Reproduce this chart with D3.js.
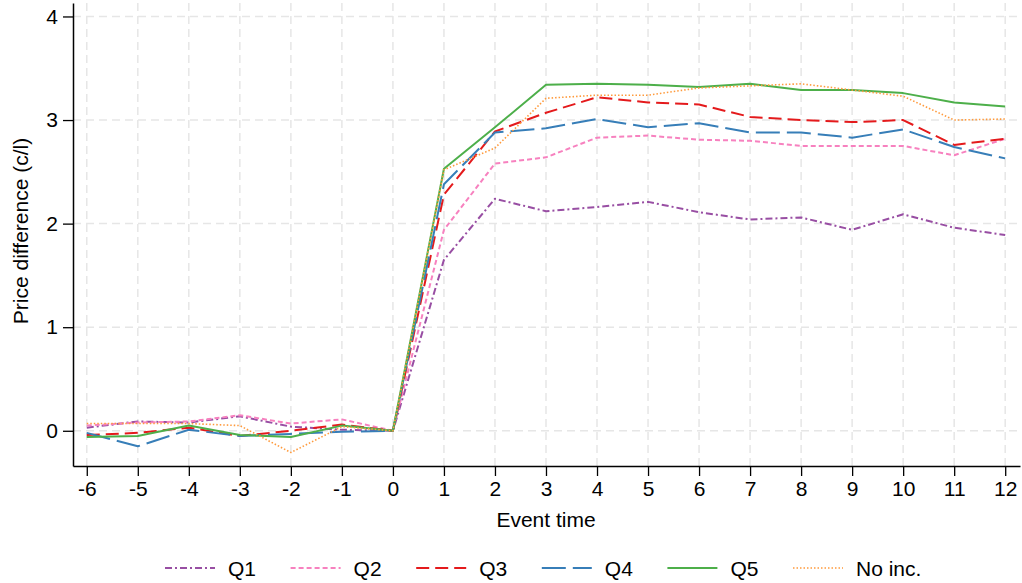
<!DOCTYPE html>
<html>
<head>
<meta charset="utf-8">
<script src="https://cdn.jsdelivr.net/npm/d3@7"></script>
<style>
  body { margin: 0; background: #fff; }
  svg { display: block; font-family: "Liberation Sans", Arial, sans-serif; }
</style>
</head>
<body>
<svg id="chart" width="1022" height="583"></svg>
<script>
// event time -6 .. 12
const eventTime = [-6, -5, -4, -3, -2, -1, 0, 1, 2, 3, 4, 5, 6, 7, 8, 9, 10, 11, 12];

const q1 = [0.03, 0.09, 0.08, 0.14, 0.04, 0.01, 0, 1.65, 2.24, 2.12, 2.16, 2.21, 2.11, 2.04, 2.06, 1.94, 2.09, 1.96, 1.89];
const q2 = [0.05, 0.08, 0.09, 0.15, 0.07, 0.11, 0, 1.94, 2.58, 2.64, 2.83, 2.85, 2.81, 2.80, 2.75, 2.75, 2.75, 2.66, 2.82];
const q3 = [-0.04, -0.02, 0.03, -0.05, 0.0, 0.06, 0, 2.28, 2.89, 3.07, 3.22, 3.17, 3.15, 3.03, 3.00, 2.98, 3.00, 2.76, 2.82];
const q4 = [-0.02, -0.15, 0.01, -0.05, -0.03, -0.01, 0, 2.38, 2.88, 2.92, 3.01, 2.93, 2.97, 2.88, 2.88, 2.83, 2.91, 2.74, 2.63];
const q5 = [-0.06, -0.05, 0.05, -0.04, -0.06, 0.05, 0, 2.53, 2.93, 3.34, 3.35, 3.34, 3.32, 3.35, 3.29, 3.29, 3.26, 3.17, 3.13];
const noInc = [0.07, 0.07, 0.07, 0.05, -0.21, 0.04, 0, 2.52, 2.73, 3.21, 3.24, 3.24, 3.31, 3.33, 3.35, 3.29, 3.23, 3.00, 3.01];

const seriesNames = [`Q1`, `Q2`, `Q3`, `Q4`, `Q5`, `No inc.`];
const seriesValues = [q1, q2, q3, q4, q5, noInc];
const yTicks = [0, 1, 2, 3, 4];

const colors = [`#984ea3`, `#f781bf`, `#e41a1c`, `#377eb8`, `#4daf4a`, `#ff9a3c`];
const dashes = [`7,3,2,3`, `5,3`, `13,6`, `24,7`, null, `1.5,2`];
const widths = [2, 2, 2, 2, 2, 1.6];

const svg = d3.select(`#chart`);
const fontSize = `21px`;

const plotLeft = 73, plotRight = 1020, plotTop = 3, plotBottom = 466;

const x = d3.scaleLinear()
    .domain([-6.27, 12.29])
    .range([plotLeft, plotRight]);

const y = d3.scaleLinear()
    .domain([-0.34, 4.13])
    .range([plotBottom, plotTop]);

// grid
const grid = svg.append(`g`)
    .attr(`stroke`, `#e6e6e6`)
    .attr(`stroke-width`, 1.5)
    .attr(`stroke-dasharray`, `8,5`);

grid.selectAll(`line.gx`)
    .data(eventTime)
    .enter().append(`line`)
        .attr(`x1`, d => x(d))
        .attr(`x2`, d => x(d))
        .attr(`y1`, plotTop)
        .attr(`y2`, plotBottom);

grid.selectAll(`line.gy`)
    .data(yTicks)
    .enter().append(`line`)
        .attr(`x1`, plotLeft)
        .attr(`x2`, plotRight)
        .attr(`y1`, d => y(d))
        .attr(`y2`, d => y(d));

// axes (plain hyphen for negatives, like the original)
const plain = d => `${d}`;

const xAxis = d3.axisBottom(x)
    .tickValues(eventTime)
    .tickFormat(plain)
    .tickSizeInner(10)
    .tickSizeOuter(0)
    .tickPadding(5);

const yAxis = d3.axisLeft(y)
    .tickValues(yTicks)
    .tickFormat(plain)
    .tickSizeInner(10)
    .tickSizeOuter(0)
    .tickPadding(5);

const gx = svg.append(`g`)
    .attr(`transform`, `translate(0, ${plotBottom})`)
    .call(xAxis);

const gy = svg.append(`g`)
    .attr(`transform`, `translate(${plotLeft}, 0)`)
    .call(yAxis);

[gx, gy].forEach(g => {
    g.selectAll(`text`)
        .attr(`font-size`, fontSize)
        .attr(`font-family`, `"Liberation Sans", Arial, sans-serif`)
        .attr(`fill`, `#000`);
    g.selectAll(`line`).attr(`stroke`, `#000`).attr(`stroke-width`, 1.3);
    g.select(`.domain`).attr(`stroke`, `#000`).attr(`stroke-width`, 1.5);
});

// lines
const line = d3.line()
    .x((d, i) => x(eventTime[i]))
    .y(d => y(d));

seriesValues.forEach((vals, k) => {
    svg.append(`path`)
        .datum(vals)
        .attr(`fill`, `none`)
        .attr(`stroke`, colors[k])
        .attr(`stroke-width`, widths[k])
        .attr(`stroke-dasharray`, dashes[k])
        .attr(`stroke-linejoin`, `round`)
        .attr(`d`, line);
});

// axis titles
svg.append(`text`)
    .attr(`x`, x(3))
    .attr(`y`, 527)
    .attr(`text-anchor`, `middle`)
    .attr(`font-size`, fontSize)
    .text(`Event time`);

svg.append(`text`)
    .attr(`transform`, `translate(28, 231) rotate(-90)`)
    .attr(`text-anchor`, `middle`)
    .attr(`font-size`, fontSize)
    .text(`Price difference (c/l)`);

// legend
const legend = svg.append(`g`)
    .selectAll(`g`)
    .data(seriesNames)
    .enter().append(`g`)
        .attr(`transform`, (d, i) => `translate(${165 + i * 125.6}, 568)`);

legend.append(`line`)
    .attr(`x1`, 0)
    .attr(`x2`, 50)
    .attr(`stroke`, (d, i) => colors[i])
    .attr(`stroke-width`, (d, i) => widths[i])
    .attr(`stroke-dasharray`, (d, i) => dashes[i]);

legend.append(`text`)
    .attr(`x`, 63)
    .attr(`y`, 8)
    .attr(`font-size`, fontSize)
    .text(d => d);
</script>
</body>
</html>
